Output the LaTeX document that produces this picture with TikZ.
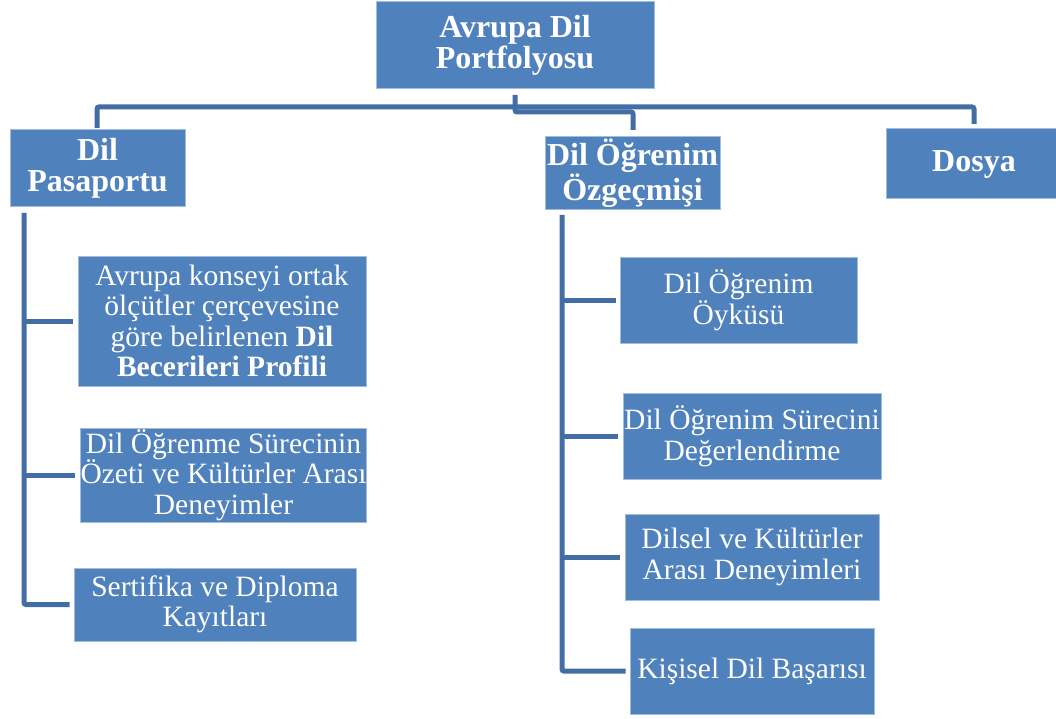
\documentclass[tikz,border=0pt]{standalone}
\usepackage{fontspec}
\setmainfont{Liberation Serif}
\usepackage{tikz}
\usetikzlibrary{calc}
\definecolor{dp_blue}{RGB}{79, 129, 189}
\definecolor{dp_edge}{RGB}{160, 188, 222}
\definecolor{dp_line}{RGB}{66, 109, 165}
\tikzstyle{hb}=[rectangle,fill=dp_blue,draw=dp_edge,line width=1pt,
  text=white,align=center,inner sep=0pt,font=\fontsize{32}{31}\selectfont\bfseries]
\tikzstyle{sb}=[rectangle,fill=dp_blue,draw=dp_edge,line width=1pt,
  text=white,align=center,inner sep=0pt,font=\fontsize{29.5}{30.5}\selectfont]
\tikzstyle{cn}=[draw=dp_line,line width=5pt,rounded corners=2pt]

\begin{document}
\begin{tikzpicture}[x=1pt,y=-1pt]
        \useasboundingbox (0,0) rectangle (1056,719);
        \node[style=hb,minimum width=278,minimum height=87] (0) at (515,45.5) {Avrupa Dil\\Portfolyosu};
        \node[style=hb,minimum width=175,minimum height=77] (1) at (97.5,168.5) {Dil\\Pasaportu};
        \node[style=hb,minimum width=175,minimum height=73] (2) at (632.5,173.5) {Dil Öğrenim\\Özgeçmişi};
        \node[style=hb,minimum width=176,minimum height=70] (3) at (974,164) {Dosya};
        \node[style=sb,minimum width=288,minimum height=130] (1a) at (222,321) {Avrupa konseyi ortak\\ölçütler çerçevesine\\göre belirlenen \textbf{Dil}\\\textbf{Becerileri Profili}};
        \node[style=sb,minimum width=281,minimum height=94] (1b) at (223.5,475) {Dil Öğrenme Sürecinin\\Özeti ve Kültürler Arası\\Deneyimler};
        \node[style=sb,minimum width=282,minimum height=73] (1c) at (215,604.5) {Sertifika ve Diploma\\Kayıtları};
        \node[style=sb,minimum width=237,minimum height=86] (2a) at (738.5,300) {Dil Öğrenim\\Öyküsü};
        \node[style=sb,minimum width=258,minimum height=86] (2b) at (752,436) {Dil Öğrenim Sürecini\\Değerlendirme};
        \node[style=sb,minimum width=254,minimum height=86] (2c) at (752,557) {Dilsel ve Kültürler\\Arası Deneyimleri};
        \node[style=sb,minimum width=244,minimum height=86] (2d) at (752,671) {Kişisel Dil Başarısı};
        \coordinate (top) at (515,95);
        \coordinate (bus) at (515,107);
        \coordinate (mid) at (633,112);
        \coordinate (end1) at (97,128);
        \coordinate (end2) at (633,130);
        \coordinate (end3) at (974,124);
        \coordinate (left) at (24,213);
        \coordinate (right) at (562,215);
        \draw[style=cn] (end1) |- (bus) -| (end3);
        \draw[style=cn] (top) |- (mid) -- (end2);
        \draw[style=cn] (left) |- ($(1c.west)+(-4,0)$);
        \draw[style=cn] (left |- 1a.west) to ($(1a.west)+(-5,0)$);
        \draw[style=cn] (left |- 1b.west) to ($(1b.west)+(-5,0)$);
        \draw[style=cn] (right) |- ($(2d.west)+(-4,0)$);
        \draw[style=cn] (right |- 2a.west) to ($(2a.west)+(-4,0)$);
        \draw[style=cn] (right |- 2b.west) to ($(2b.west)+(-5,0)$);
        \draw[style=cn] (right |- 2c.west) to ($(2c.west)+(-5,0)$);
    \end{tikzpicture}
\end{document}
